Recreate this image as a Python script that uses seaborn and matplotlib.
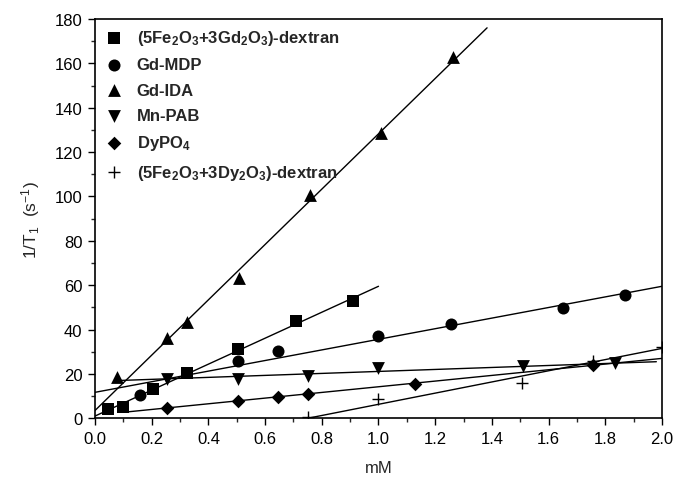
import matplotlib
matplotlib.use("Agg")
import matplotlib.pyplot as plt
import seaborn as sns
import numpy as np
import pandas as pd
from matplotlib.ticker import MultipleLocator

# ---- data ----
labels = [r"(5Fe$_\mathbf{2}$O$_\mathbf{3}$+3Gd$_\mathbf{2}$O$_\mathbf{3}$)-dextran",
          "Gd-MDP", "Gd-IDA", "Mn-PAB", r"DyPO$_\mathbf{4}$",
          r"(5Fe$_\mathbf{2}$O$_\mathbf{3}$+3Dy$_\mathbf{2}$O$_\mathbf{3}$)-dextran"]

fegd_x = [0.047, 0.10, 0.206, 0.324, 0.506, 0.71, 0.91]
fegd_y = [4.0, 5.0, 13.0, 20.3, 31.3, 43.7, 52.8]

gdmdp_x = [0.159, 0.506, 0.644, 1.0, 1.256, 1.65, 1.87]
gdmdp_y = [10.6, 25.9, 30.3, 37.3, 42.4, 49.5, 55.5]

gdida_x = [0.077, 0.255, 0.326, 0.507, 0.76, 1.01, 1.263]
gdida_y = [18.6, 36.0, 43.3, 63.4, 100.5, 128.5, 163.0]

mnpab_x = [0.253, 0.506, 0.753, 1.0, 1.51, 1.833]
mnpab_y = [17.5, 17.5, 19.1, 22.7, 23.6, 24.7]

dypo_x = [0.253, 0.506, 0.644, 0.753, 1.13, 1.757]
dypo_y = [4.5, 7.7, 9.8, 11.0, 15.6, 23.9]

fedy_x = [0.753, 1.0, 1.506, 1.757, 2.0]
fedy_y = [0.5, 8.5, 16.0, 26.0, 32.0]

# fitted straight lines (ends)
fegd_line_x, fegd_line_y = [0.0, 1.0], [1.0, 59.5]
gdmdp_line_x, gdmdp_line_y = [0.0, 2.0], [11.7, 59.5]
gdida_line_x, gdida_line_y = [0.0, 1.383], [3.5, 176.0]
mnpab_line_x, mnpab_line_y = [0.077, 1.98], [17.0, 25.5]
dypo_line_x, dypo_line_y = [0.1, 2.0], [2.7, 27.0]
fedy_line_x, fedy_line_y = [0.75, 2.0], [0.0, 31.5]

xticks = np.arange(0, 2.01, 0.2)
yticks = np.arange(0, 181, 20)

# ---- style ----
sns.set_theme(style="ticks")
plt.rcParams["font.family"] = ["Liberation Sans", "DejaVu Sans"]
plt.rcParams["mathtext.fontset"] = "custom"
plt.rcParams["mathtext.rm"] = "Liberation Sans"
plt.rcParams["mathtext.it"] = "Liberation Sans"
plt.rcParams["mathtext.bf"] = "Liberation Sans:bold"

fig = plt.figure(figsize=(6.76, 4.81), dpi=100)
ax = fig.add_axes([0.1405, 0.1283, 0.8388, 0.8302])

series = [
    (fegd_x, fegd_y, fegd_line_x, fegd_line_y, "s", 65),
    (gdmdp_x, gdmdp_y, gdmdp_line_x, gdmdp_line_y, "o", 75),
    (gdida_x, gdida_y, gdida_line_x, gdida_line_y, "^", 85),
    (mnpab_x, mnpab_y, mnpab_line_x, mnpab_line_y, "v", 85),
    (dypo_x, dypo_y, dypo_line_x, dypo_line_y, "D", 48),
    (fedy_x, fedy_y, fedy_line_x, fedy_line_y, "+", 70),
]

for (px, py, lx, ly, m, s), lab in zip(series, labels):
    sns.lineplot(x=lx, y=ly, color="black", lw=1.0, ax=ax, legend=False)
    kw = dict(linewidths=1.0) if m == "+" else dict(edgecolor="black", linewidth=0)
    sns.scatterplot(x=px, y=py, marker=m, s=s, color="black", ax=ax,
                    label=lab, zorder=3, **kw)

ax.set_xlim(0, 2.0)
ax.set_ylim(0, 180)
ax.set_xticks(xticks)
ax.set_yticks(yticks)
ax.set_xticklabels([f"{v:.1f}" for v in xticks])
ax.set_yticklabels([f"{int(v)}" for v in yticks])
ax.xaxis.set_minor_locator(MultipleLocator(0.1))
ax.yaxis.set_minor_locator(MultipleLocator(10))
ax.tick_params(which="major", direction="out", length=5, width=1.0,
               labelsize=12, colors="black", pad=4)
ax.tick_params(which="minor", direction="out", length=3, width=1.0)
for sp in ax.spines.values():
    sp.set_visible(True)
    sp.set_linewidth(1.2)
    sp.set_color("black")

ax.set_xlabel("mM", fontsize=12, labelpad=10)
ax.set_ylabel(r"1/T$_1$  (s$^{-1}$)", fontsize=12.5, labelpad=9)

leg = ax.legend(loc="upper left", frameon=False, prop={"weight": "bold", "size": 12},
                handletextpad=0.75, labelspacing=0.62, borderaxespad=0.15,
                markerscale=1.0, handlelength=1.2)

fig.savefig("out.png", dpi=100)
